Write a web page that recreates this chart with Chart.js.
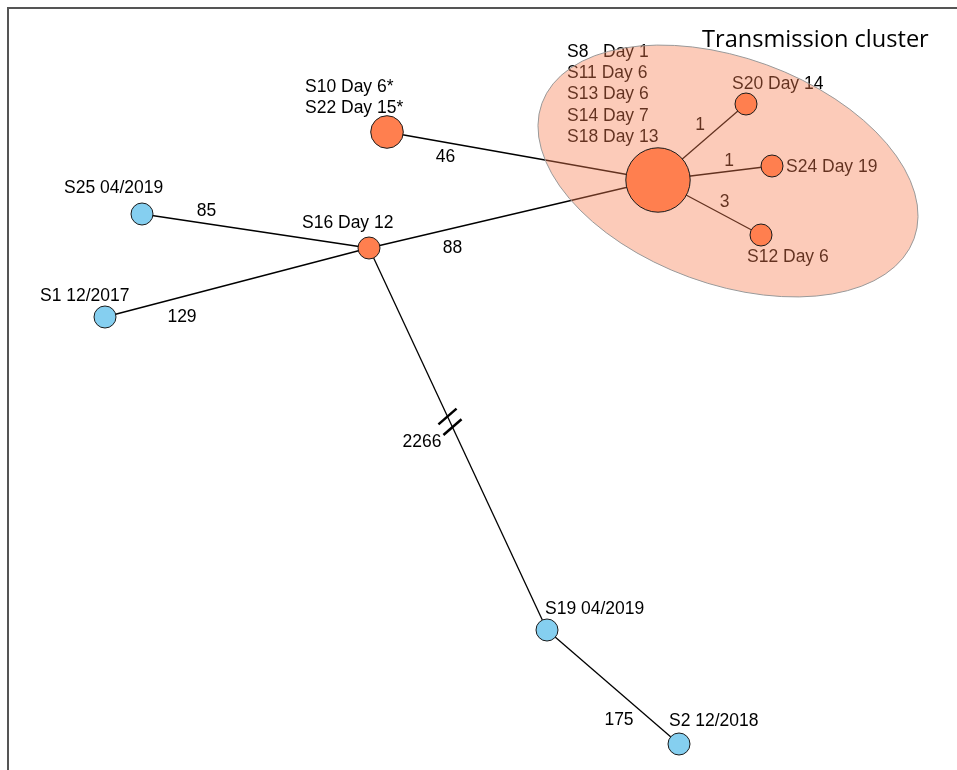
<!DOCTYPE html>
<html>
<head>
<meta charset="utf-8">
<script src="https://cdn.jsdelivr.net/npm/chart.js@4.4.0/dist/chart.umd.min.js"></script>
<style>
  html, body { margin: 0; padding: 0; background: #fff; }
  #wrap { width: 957px; height: 770px; }
</style>
</head>
<body>
<div id="wrap"><canvas id="network" width="957" height="770"></canvas></div>
<script>
// nodes of the spanning tree (layout coordinates, y grows downward)
const nodeIds = ['hub', 'S10', 'S16', 'S25', 'S1', 'S19', 'S2', 'S20', 'S24', 'S12'];
const nodeLabels = [
  ['S8   Day 1', 'S11 Day 6', 'S13 Day 6', 'S14 Day 7', 'S18 Day 13'],
  ['S10 Day 6*', 'S22 Day 15*'],
  ['S16 Day 12'],
  ['S25 04/2019'],
  ['S1 12/2017'],
  ['S19 04/2019'],
  ['S2 12/2018'],
  ['S20 Day 14'],
  ['S24 Day 19'],
  ['S12 Day 6']
];
const nodeX = [658, 387, 369, 142, 105, 547, 679, 746, 772, 761];
const nodeY = [180, 132, 248, 214, 317, 630, 744, 104, 166, 235];
const nodeSamples = [5, 2, 1, 1, 1, 1, 1, 1, 1, 1];
const nodeOutbreak = [true, true, true, false, false, false, false, true, true, true];

// edges with SNP distances
const edgeFrom = ['S10', 'hub', 'S25', 'S1', 'S16', 'S19', 'hub', 'hub', 'hub'];
const edgeTo = ['hub', 'S16', 'S16', 'S16', 'S19', 'S2', 'S20', 'S24', 'S12'];
const edgeSnps = [46, 88, 85, 129, 2266, 175, 1, 1, 3];

const brokenEdge = 4; // the long one gets the // mark

// where the text sits, relative to node / edge midpoint
const nodeLabelOffset = {
  hub: [-91, -128], S10: [-82, -45], S16: [-67, -25], S25: [-78, -26], S1: [-65, -21],
  S19: [-2, -21], S2: [-10, -23], S20: [-14, -20], S24: [14, 1], S12: [-14, 22]
};
const edgeLabelOffset = [[-77, 1], [-61, 34], [-49, -20], [-55, 35], [-36, 3], [6, 33], [-2, -17], [14, -12], [15, -5]];

const cluster = { cx: 728, cy: 171, rx: 198, ry: 113, rot: 20 };

const ORANGE = '#FF7F4F';
const BLUE = '#85CFF0';
const FONT = '17.5px "Liberation Sans", Arial, sans-serif';

const idx = id => nodeIds.indexOf(id);
const radiusOf = n => 11 + 5.3 * (n - 1);

const datasets = [{
  type: 'scatter',
  label: 'nodes',
  data: nodeIds.map((id, i) => ({ x: nodeX[i], y: nodeY[i] })),
  pointRadius: ctx => radiusOf(nodeSamples[ctx.dataIndex]),
  pointBackgroundColor: ctx => nodeOutbreak[ctx.dataIndex] ? ORANGE : BLUE,
  pointBorderColor: '#1a1a1a',
  pointBorderWidth: 1,
  clip: false
}];

edgeFrom.forEach((f, i) => {
  const a = idx(f), b = idx(edgeTo[i]);
  datasets.push({
    type: 'scatter',
    label: 'edge' + i,
    showLine: true,
    data: [{ x: nodeX[a], y: nodeY[a] }, { x: nodeX[b], y: nodeY[b] }],
    borderColor: '#000',
    borderWidth: 1.3,
    pointRadius: 0,
    clip: false
  });
});

const networkDecor = {
  id: 'networkDecor',
  beforeDatasetsDraw(chart) {
    const ctx = chart.ctx;
    ctx.save();
    ctx.strokeStyle = '#555';
    ctx.lineWidth = 2;
    ctx.beginPath();
    ctx.moveTo(8, 770);
    ctx.lineTo(8, 8);
    ctx.lineTo(957, 8);
    ctx.stroke();
    ctx.restore();
  },
  beforeDatasetDraw(chart, args) {
    if (args.index !== 0) return;
    const ctx = chart.ctx;
    const xs = chart.scales.x, ys = chart.scales.y;
    const px = v => xs.getPixelForValue(v), py = v => ys.getPixelForValue(v);
    ctx.save();

    // break mark on the long branch
    const a = idx(edgeFrom[brokenEdge]), b = idx(edgeTo[brokenEdge]);
    [0.441, 0.469].forEach(t => {
      const x = px(nodeX[a] + (nodeX[b] - nodeX[a]) * t);
      const y = py(nodeY[a] + (nodeY[b] - nodeY[a]) * t);
      const ang = -41 * Math.PI / 180;
      ctx.strokeStyle = '#000';
      ctx.lineWidth = 2.5;
      ctx.beginPath();
      ctx.moveTo(x - Math.cos(ang) * 12, y - Math.sin(ang) * 12);
      ctx.lineTo(x + Math.cos(ang) * 12, y + Math.sin(ang) * 12);
      ctx.stroke();
    });

    ctx.fillStyle = '#000';
    ctx.font = FONT;
    ctx.textBaseline = 'middle';

    // edge distances
    ctx.textAlign = 'center';
    edgeSnps.forEach((d, i) => {
      const p = idx(edgeFrom[i]), q = idx(edgeTo[i]);
      const mx = (nodeX[p] + nodeX[q]) / 2 + edgeLabelOffset[i][0];
      const my = (nodeY[p] + nodeY[q]) / 2 + edgeLabelOffset[i][1];
      ctx.fillText(String(d), px(mx), py(my));
    });

    // node names
    ctx.textAlign = 'left';
    nodeIds.forEach((id, i) => {
      const off = nodeLabelOffset[id];
      nodeLabels[i].forEach((line, k) => {
        ctx.fillText(line, px(nodeX[i] + off[0]), py(nodeY[i] + off[1] + k * 21.3));
      });
    });

    // cluster shading laid over edges and text
    ctx.beginPath();
    ctx.ellipse(px(cluster.cx), py(cluster.cy), cluster.rx, cluster.ry, cluster.rot * Math.PI / 180, 0, Math.PI * 2);
    ctx.fillStyle = 'rgba(247,125,80,0.4)';
    ctx.fill();
    ctx.strokeStyle = '#999';
    ctx.lineWidth = 1;
    ctx.stroke();

    ctx.fillStyle = '#000';
    ctx.font = '23.6px "Open Sans", sans-serif';
    ctx.textAlign = 'left';
    ctx.textBaseline = 'alphabetic';
    ctx.fillText('Transmission cluster', 702, 47);
    ctx.restore();
  }
};

new Chart(document.getElementById('network'), {
  type: 'scatter',
  data: { datasets },
  options: {
    responsive: false,
    animation: false,
    events: [],
    layout: { padding: 0, autoPadding: false },
    plugins: { legend: { display: false }, tooltip: { enabled: false } },
    scales: {
      x: { type: 'linear', min: 0, max: 957, display: false },
      y: { type: 'linear', min: 0, max: 770, reverse: true, display: false }
    }
  },
  plugins: [networkDecor]
});
</script>
</body>
</html>
